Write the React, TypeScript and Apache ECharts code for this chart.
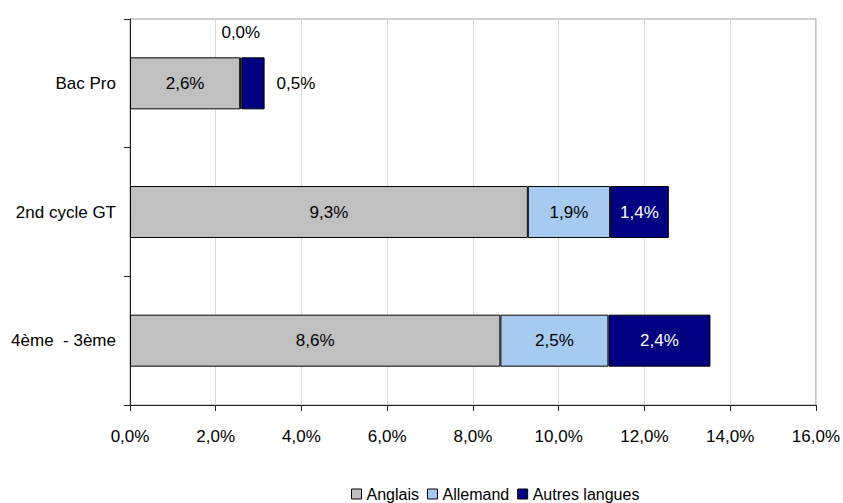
import React, { useEffect, useRef } from "react";
import * as echarts from "echarts";

const categories = ["4ème  - 3ème", "2nd cycle GT", "Bac Pro"];
const anglais = [8.64, 9.28, 2.57];
const allemand = [2.52, 1.92, 0.03];
const autres = [2.38, 1.37, 0.54];
const xTicks = [0, 2, 4, 6, 8, 10, 12, 14, 16];
const legendNames = ["Anglais", "Allemand", "Autres langues"];

const FONT = '"Liberation Sans", Arial, sans-serif';
const FS = 17;
const fmt = (v: number) => v.toFixed(1).replace(".", ",") + "%";

export default function App() {
  const ref = useRef<HTMLDivElement>(null);
  useEffect(() => {
    document.body.style.margin = "0";
    if (!ref.current) return;
    const chart = echarts.init(ref.current, null, { renderer: "svg" });
    const barBase = {
      type: "bar" as const,
      stack: "total",
      barWidth: 52,
      itemStyle: { borderColor: "#000", borderWidth: 1 },
    };
    const lbl = (color: string) => ({
      show: true,
      position: "inside",
      color,
      fontFamily: FONT,
      fontSize: FS,
      formatter: (p: any) => fmt(p.value),
    });
    chart.setOption({
      animation: false,
      textStyle: { fontFamily: FONT },
      grid: {
        left: 130,
        right: 23,
        top: 19,
        bottom: 98,
        show: true,
        borderColor: "#a0a0a0",
        borderWidth: 1,
      },
      legend: {
        left: 346,
        top: 480,
        itemWidth: 10,
        itemHeight: 10,
        itemGap: 8,
        icon: "rect",
        itemStyle: { borderColor: "#000", borderWidth: 1 },
        textStyle: { fontFamily: FONT, fontSize: 16, color: "#000", lineHeight: 18 },
        data: legendNames,
      },
      xAxis: {
        type: "value",
        min: xTicks[0],
        max: xTicks[xTicks.length - 1],
        interval: 2,
        axisLine: { show: true, lineStyle: { color: "#222", width: 1 } },
        axisTick: { show: true, length: 6, lineStyle: { color: "#222" } },
        axisLabel: {
          formatter: (v: number) => fmt(v),
          fontFamily: FONT,
          fontSize: FS,
          color: "#000",
          margin: 23,
        },
        splitLine: { show: true, lineStyle: { color: "#d9d9d9", width: 1 } },
      },
      yAxis: {
        type: "category",
        data: categories,
        axisLine: { show: true, lineStyle: { color: "#222", width: 1 } },
        axisTick: { show: true, length: 6, lineStyle: { color: "#222" } },
        axisLabel: { fontFamily: FONT, fontSize: FS, color: "#000", margin: 14 },
        splitLine: { show: false },
      },
      series: [
        {
          ...barBase,
          name: legendNames[0],
          color: "#c0c0c0",
          data: anglais,
          label: lbl("#000"),
        },
        {
          ...barBase,
          name: legendNames[1],
          color: "#a6caf0",
          data: allemand.map((v, i) =>
            i === 2
              ? { value: v, label: { position: "top", distance: 16 } }
              : { value: v }
          ),
          label: lbl("#000"),
        },
        {
          ...barBase,
          name: legendNames[2],
          color: "#000080",
          data: autres.map((v, i) =>
            i === 2
              ? { value: v, label: { position: "right", distance: 12, color: "#000" } }
              : { value: v }
          ),
          label: lbl("#fff"),
        },
      ],
    });
    return () => chart.dispose();
  }, []);
  return <div ref={ref} style={{ width: 843, height: 503 }} />;
}
